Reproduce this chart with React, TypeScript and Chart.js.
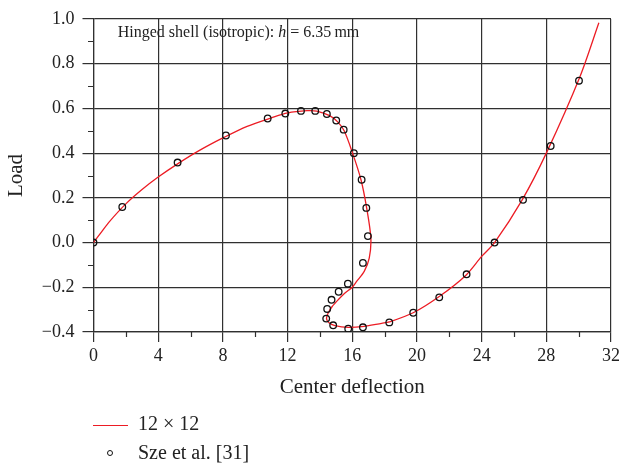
import React, { useEffect, useRef } from "react";
import { Chart, registerables } from "chart.js";

Chart.register(...registerables);

const FONT = "'Liberation Serif', 'Times New Roman', serif";

// 12 x 12 FEM curve (Center deflection, Load)
const curveX = [0, 0.5, 1, 2, 3, 4, 5.2, 6.5, 8, 9.5, 11, 12, 13.2, 13.8, 14.6, 15.1, 15.5, 16.02, 16.54, 16.89, 17.15, 17.05, 16.74, 16.27, 16.0, 15.55, 15.13, 14.76, 14.51, 14.41, 14.56, 14.93, 15.75, 16.58, 17.82, 18.29, 19.77, 21.4, 23, 24, 24.8, 26.5, 28, 30.08, 31.25];
const curveY = [0, 0.048, 0.095, 0.173, 0.237, 0.293, 0.352, 0.41, 0.468, 0.52, 0.558, 0.58, 0.59, 0.588, 0.568, 0.54, 0.5, 0.4, 0.281, 0.155, 0.02, -0.07, -0.129, -0.174, -0.2, -0.226, -0.256, -0.286, -0.315, -0.34, -0.359, -0.371, -0.379, -0.376, -0.361, -0.355, -0.314, -0.24, -0.148, -0.062, 0.0, 0.19, 0.4, 0.742, 0.983];

// Sze et al. [31] reference points
const szeX = [0, 1.78, 5.2, 8.19, 10.77, 11.86, 12.83, 13.71, 14.43, 15.01, 15.47, 16.1, 16.58, 16.87, 16.97, 16.66, 15.73, 15.16, 14.72, 14.45, 14.39, 14.82, 15.75, 16.66, 18.29, 19.77, 21.38, 23.07, 24.8, 26.56, 28.27, 30.02];
const szeY = [0, 0.159, 0.358, 0.479, 0.555, 0.577, 0.589, 0.589, 0.575, 0.546, 0.505, 0.4, 0.281, 0.155, 0.029, -0.091, -0.184, -0.22, -0.256, -0.297, -0.34, -0.37, -0.385, -0.379, -0.357, -0.314, -0.245, -0.142, 0.0, 0.191, 0.432, 0.724];

const xMin = 0, xMax = 32, xStep = 4;
const yMin = -0.4, yMax = 1.0, yStep = 0.2;
const xMinorTicks = [2, 6, 10, 14, 18, 22, 26, 30];
const yMinorTicks = [-0.3, -0.1, 0.1, 0.3, 0.5, 0.7, 0.9];

const seriesLabels = ["12 \u00d7 12", "Sze et al. [31]"];
const xTitle = "Center deflection";
const yTitle = "Load";

const GRID = "#303030";
const RED = "#ec1c24";

const annotPlugin = {
  id: "annot",
  afterDraw(chart: any) {
    const ctx = chart.ctx;
    const xs = chart.scales.x;
    const ys = chart.scales.y;
    const area = chart.chartArea;
    ctx.save();
    ctx.strokeStyle = GRID;
    ctx.lineWidth = 1.2;
    ctx.beginPath();
    for (const v of xMinorTicks) {
      const px = Math.round(xs.getPixelForValue(v)) + 0.5;
      ctx.moveTo(px, area.bottom);
      ctx.lineTo(px, area.bottom + 5);
    }
    for (const v of yMinorTicks) {
      const py = Math.round(ys.getPixelForValue(v)) + 0.5;
      ctx.moveTo(area.left, py);
      ctx.lineTo(area.left - 5.5, py);
    }
    ctx.stroke();
    // in-plot annotation
    const x0 = xs.getPixelForValue(1.5);
    const yb = area.top + 18;
    ctx.fillStyle = "#222";
    ctx.textBaseline = "alphabetic";
    ctx.textAlign = "left";
    const parts = [
      { t: "Hinged shell (isotropic): ", f: `16px ${FONT}` },
      { t: "h", f: `italic 16px ${FONT}` },
      { t: " = 6.35\u2009mm", f: `16px ${FONT}` },
    ];
    let x = x0;
    for (const p of parts) {
      ctx.font = p.f;
      ctx.fillText(p.t, x, yb);
      x += ctx.measureText(p.t).width;
    }
    ctx.restore();
  },
};

export default function App() {
  const ref = useRef<HTMLCanvasElement | null>(null);
  useEffect(() => {
    if (!ref.current) return;
    const curve = curveX.map((x, i) => ({ x, y: curveY[i] }));
    const sze = szeX.map((x, i) => ({ x, y: szeY[i] }));
    const chart = new Chart(ref.current, {
      type: "scatter",
      data: {
        datasets: [
          {
            label: seriesLabels[0],
            data: curve,
            showLine: true,
            borderColor: RED,
            borderWidth: 1.3,
            pointRadius: 0,
            tension: 0.3,
            order: 2,
          },
          {
            label: seriesLabels[1],
            data: sze,
            showLine: false,
            pointRadius: 3.3,
            pointBorderWidth: 1.3,
            borderColor: "#111",
            backgroundColor: "rgba(0,0,0,0)",
            pointBackgroundColor: "rgba(0,0,0,0)",
            order: 1,
          },
        ],
      },
      options: {
        responsive: false,
        animation: false,
        devicePixelRatio: 1,
        layout: { padding: { left: 0, top: 19, right: 13, bottom: 65 } },
        plugins: { legend: { display: false }, tooltip: { enabled: false } },
        scales: {
          x: {
            type: "linear",
            min: xMin,
            max: xMax,
            afterFit: (s: any) => { s.height = 70; },
            ticks: {
              stepSize: xStep,
              color: "#222",
              font: { family: FONT, size: 18 },
              padding: 3,
              maxRotation: 0,
            },
            grid: { color: GRID, lineWidth: 1.2, tickLength: 10, tickColor: GRID },
            border: { color: GRID, width: 1.2 },
            title: {
              display: true,
              text: xTitle,
              color: "#222",
              font: { family: FONT, size: 21 },
              padding: { top: 0, bottom: 2 },
            },
          },
          y: {
            type: "linear",
            min: yMin,
            max: yMax,
            afterFit: (s: any) => { s.width = 93.5; },
            ticks: {
              stepSize: yStep,
              color: "#222",
              font: { family: FONT, size: 18 },
              padding: 8,
              callback: (v: any) => {
                const n = Number(v);
                const s = Math.abs(n).toFixed(1);
                return n < -1e-9 ? "\u2212" + s : s;
              },
            },
            grid: { color: GRID, lineWidth: 1.2, tickLength: 11, tickColor: GRID },
            border: { color: GRID, width: 1.2 },
            title: {
              display: true,
              text: yTitle,
              color: "#222",
              font: { family: FONT, size: 21 },
              padding: { top: 4, bottom: 0 },
            },
          },
        },
      },
      plugins: [annotPlugin],
    });
    return () => chart.destroy();
  }, []);

  const textStyle: React.CSSProperties = {
    position: "absolute",
    left: 138,
    fontFamily: FONT,
    fontSize: 20,
    lineHeight: "20px",
    color: "#222",
    whiteSpace: "nowrap",
  };

  return (
    <div style={{ position: "absolute", left: 0, top: 0, width: 624, height: 467, background: "#fff" }}>
      <canvas ref={ref} width={624} height={467} style={{ display: "block", width: 624, height: 467 }} />
      <div style={{ position: "absolute", left: 93, top: 425, width: 35, height: 1.4, background: RED }} />
      <div style={{ ...textStyle, top: 413 }}>{seriesLabels[0]}</div>
      <div
        style={{
          position: "absolute",
          left: 107,
          top: 450,
          width: 4,
          height: 4,
          border: "1.3px solid #111",
          borderRadius: "50%",
        }}
      />
      <div style={{ ...textStyle, top: 442 }}>{seriesLabels[1]}</div>
    </div>
  );
}
